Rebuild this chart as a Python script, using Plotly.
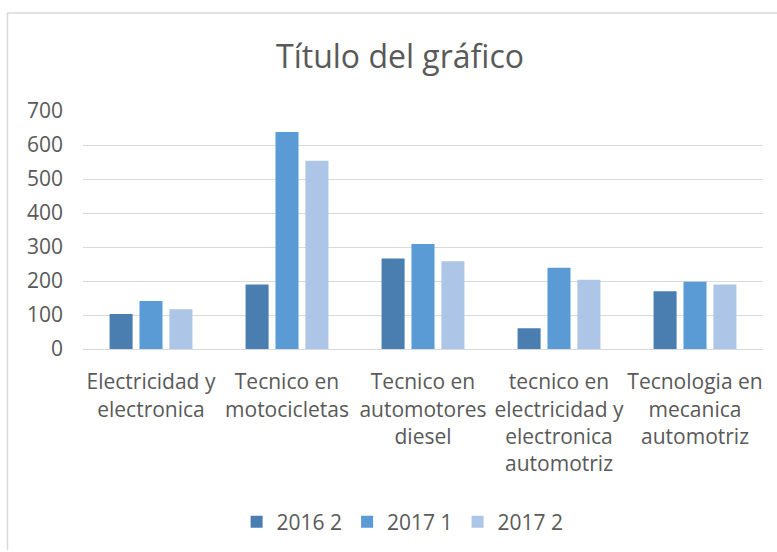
import plotly.graph_objects as go

categories = [
    "Electricidad y<br>electronica",
    "Tecnico en<br>motocicletas",
    "Tecnico en<br>automotores<br>diesel",
    "tecnico en<br>electricidad y<br>electronica<br>automotriz",
    "Tecnologia en<br>mecanica<br>automotriz",
]
series_names = ["2016 2", "2017 1", "2017 2"]
values_2016_2 = [103, 190, 266, 61, 170]
values_2017_1 = [141, 638, 309, 239, 198]
values_2017_2 = [117, 554, 258, 204, 190]
y_ticks = [0, 100, 200, 300, 400, 500, 600, 700]

colors = ["#4A7EB0", "#5B9BD5", "#ADC5E7"]
FONT = "Open Sans"
GRAY = "#595959"

fig = go.Figure()
for name, vals, c in zip(series_names, [values_2016_2, values_2017_1, values_2017_2], colors):
    fig.add_trace(go.Bar(x=categories, y=vals, name=name, marker=dict(color=c, line=dict(width=0))))

W, H = 777, 552
L, R, T, B = 83, 14, 111, 202
pw, ph = W - L - R, H - T - B

def px_x(p):
    return (p - L) / pw

def px_y(p):
    return (H - B - p) / ph

fig.update_layout(
    width=W, height=H,
    margin=dict(l=L, r=R, t=T, b=B),
    paper_bgcolor="white", plot_bgcolor="white",
    barmode="group", bargap=0.34, bargroupgap=0.23,
    font=dict(family=FONT, color=GRAY, size=21),
    title=dict(text="Título del gráfico", x=400 / W, xanchor="center",
               y=1 - 57 / H, yanchor="middle",
               font=dict(family=FONT, size=32, color=GRAY)),
    legend=dict(orientation="h", x=0.47, xanchor="center",
                y=px_y(522), yanchor="middle",
                font=dict(family=FONT, size=21, color=GRAY),
                itemwidth=30, traceorder="normal"),
    showlegend=True,
)
fig.update_yaxes(range=[0, 700], tickvals=y_ticks, showgrid=True, gridcolor="#D9D9D9",
                 gridwidth=1, zeroline=False, showline=False,
                 tickfont=dict(family=FONT, size=21, color=GRAY), ticklabelstandoff=19)
fig.update_xaxes(showgrid=False, showline=True, linecolor="#D9D9D9", linewidth=1,
                 tickfont=dict(family=FONT, size=21, color=GRAY), ticklabelstandoff=14)

# outer chart border (top and left edges visible)
fig.add_shape(type="line", xref="paper", yref="paper",
              x0=px_x(7.5), x1=px_x(777), y0=px_y(12.5), y1=px_y(12.5),
              line=dict(color="#D9D9D9", width=1.5))
fig.add_shape(type="line", xref="paper", yref="paper",
              x0=px_x(7.5), x1=px_x(7.5), y0=px_y(12.5), y1=px_y(552),
              line=dict(color="#D9D9D9", width=1.5))

fig.write_html("out.html", config={"displayModeBar": False},
               post_script="document.body.style.margin='0';")
